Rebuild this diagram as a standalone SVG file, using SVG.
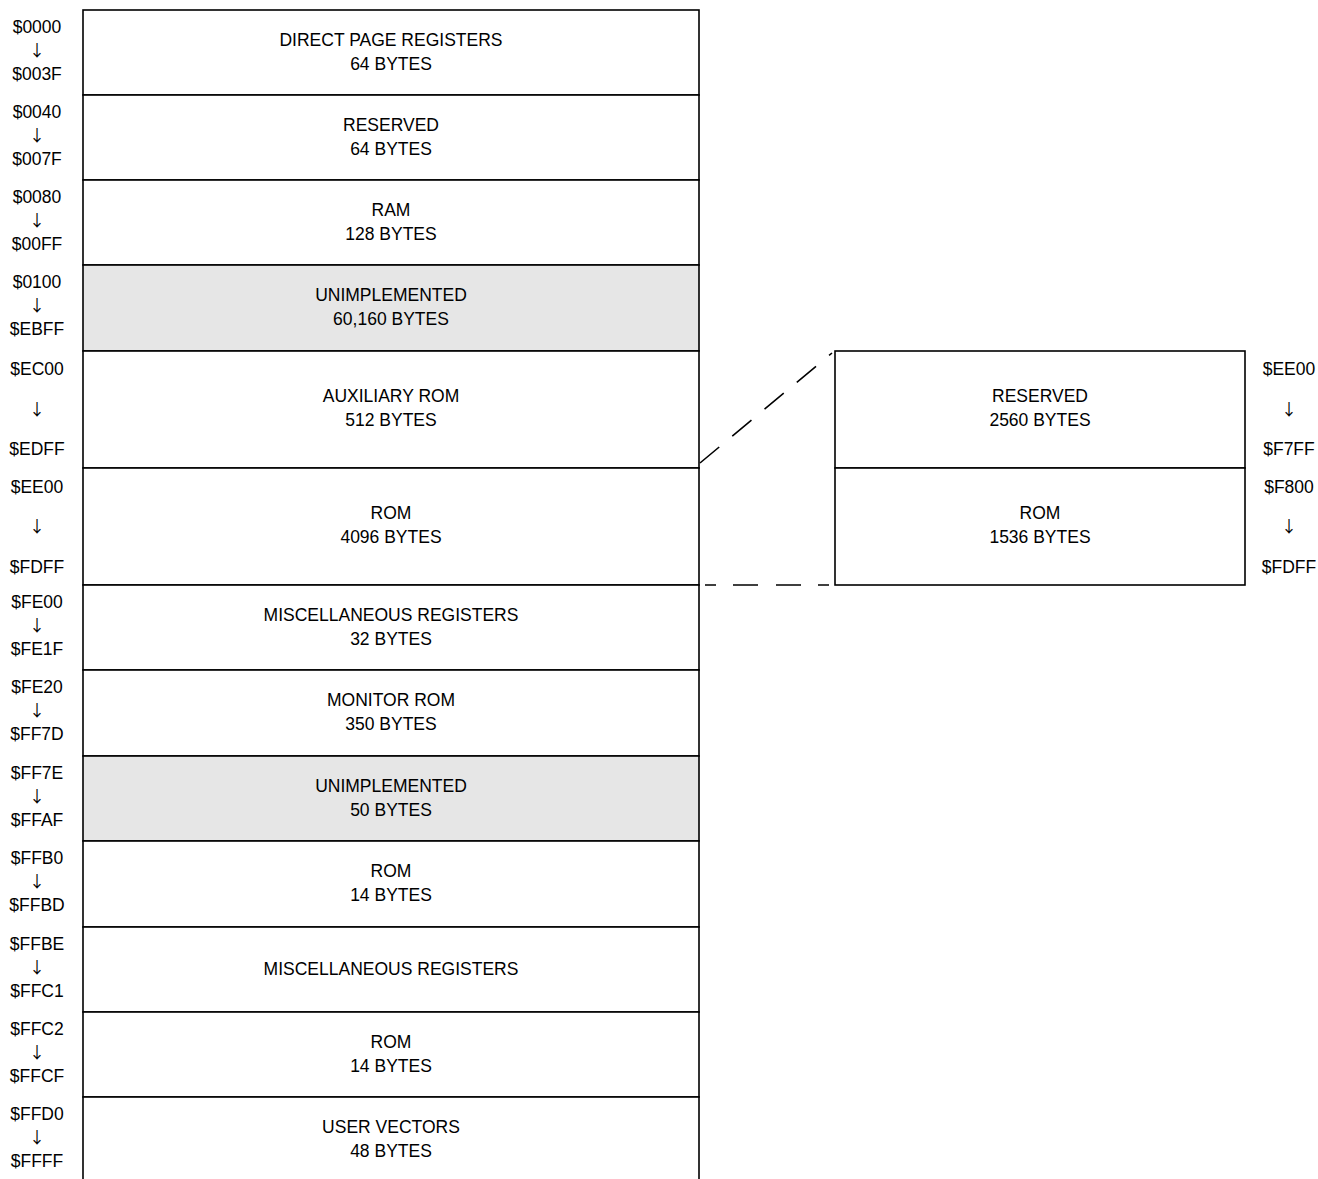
<svg xmlns="http://www.w3.org/2000/svg" width="1318" height="1179" viewBox="0 0 1318 1179">
<style>
text{font-family:"Liberation Sans",Arial,sans-serif;font-size:17.5px;fill:#000;text-anchor:middle}
text.ar{font-family:"Noto Sans CJK SC","DejaVu Sans",sans-serif;font-size:16px}
.box{fill:#fff;stroke:#000;stroke-width:1.6}
.gray{fill:#e6e6e6}
.dash{fill:none;stroke:#000;stroke-width:1.6;stroke-dasharray:25 17}
</style>
<rect width="1318" height="1179" fill="#fff"/>
<g id="map">
<g id="n0"><rect class="box" x="83" y="10" width="616" height="85"/><text x="391" y="46">DIRECT PAGE REGISTERS</text><text x="391" y="70">64 BYTES</text></g>
<g id="n1"><rect class="box" x="83" y="95" width="616" height="85"/><text x="391" y="131">RESERVED</text><text x="391" y="155">64 BYTES</text></g>
<g id="n2"><rect class="box" x="83" y="180" width="616" height="85"/><text x="391" y="216">RAM</text><text x="391" y="240">128 BYTES</text></g>
<g id="n3"><rect class="box gray" x="83" y="265" width="616" height="86"/><text x="391" y="301">UNIMPLEMENTED</text><text x="391" y="325">60,160 BYTES</text></g>
<g id="n4"><rect class="box" x="83" y="351" width="616" height="117"/><text x="391" y="402">AUXILIARY ROM</text><text x="391" y="426">512 BYTES</text></g>
<g id="n5"><rect class="box" x="83" y="468" width="616" height="117"/><text x="391" y="519">ROM</text><text x="391" y="543">4096 BYTES</text></g>
<g id="n6"><rect class="box" x="83" y="585" width="616" height="85"/><text x="391" y="621">MISCELLANEOUS REGISTERS</text><text x="391" y="645">32 BYTES</text></g>
<g id="n7"><rect class="box" x="83" y="670" width="616" height="86"/><text x="391" y="706">MONITOR ROM</text><text x="391" y="730">350 BYTES</text></g>
<g id="n8"><rect class="box gray" x="83" y="756" width="616" height="85"/><text x="391" y="792">UNIMPLEMENTED</text><text x="391" y="816">50 BYTES</text></g>
<g id="n9"><rect class="box" x="83" y="841" width="616" height="86"/><text x="391" y="877">ROM</text><text x="391" y="901">14 BYTES</text></g>
<g id="n10"><rect class="box" x="83" y="927" width="616" height="85"/><text x="391" y="975">MISCELLANEOUS REGISTERS</text></g>
<g id="n11"><rect class="box" x="83" y="1012" width="616" height="85"/><text x="391" y="1048">ROM</text><text x="391" y="1072">14 BYTES</text></g>
<g id="n12"><rect class="box" x="83" y="1097" width="616" height="100"/><text x="391" y="1133">USER VECTORS</text><text x="391" y="1157">48 BYTES</text></g>
</g>
<g id="expansion">
<g id="r0"><rect class="box" x="835" y="351" width="410" height="117"/><text x="1040" y="402">RESERVED</text><text x="1040" y="426">2560 BYTES</text></g>
<g id="r1"><rect class="box" x="835" y="468" width="410" height="117"/><text x="1040" y="519">ROM</text><text x="1040" y="543">1536 BYTES</text></g>
</g>
<g id="connectors">
<line class="dash" x1="700" y1="463" x2="832" y2="353"/>
<path d="M705 585H716M733 585H758M776 585H801M818 585H829" fill="none" stroke="#000" stroke-width="1.6"/>
</g>
<g id="addresses">
<text x="37" y="33">$0000</text><text class="ar" x="37" y="56">↓</text><text x="37" y="80">$003F</text>
<text x="37" y="118">$0040</text><text class="ar" x="37" y="141">↓</text><text x="37" y="165">$007F</text>
<text x="37" y="203">$0080</text><text class="ar" x="37" y="226">↓</text><text x="37" y="250">$00FF</text>
<text x="37" y="288">$0100</text><text class="ar" x="37" y="311">↓</text><text x="37" y="335">$EBFF</text>
<text x="37" y="375">$EC00</text><text class="ar" x="37" y="415">↓</text><text x="37" y="455">$EDFF</text>
<text x="37" y="493">$EE00</text><text class="ar" x="37" y="532">↓</text><text x="37" y="573">$FDFF</text>
<text x="37" y="608">$FE00</text><text class="ar" x="37" y="631">↓</text><text x="37" y="655">$FE1F</text>
<text x="37" y="693">$FE20</text><text class="ar" x="37" y="716">↓</text><text x="37" y="740">$FF7D</text>
<text x="37" y="779">$FF7E</text><text class="ar" x="37" y="802">↓</text><text x="37" y="826">$FFAF</text>
<text x="37" y="864">$FFB0</text><text class="ar" x="37" y="887">↓</text><text x="37" y="911">$FFBD</text>
<text x="37" y="950">$FFBE</text><text class="ar" x="37" y="973">↓</text><text x="37" y="997">$FFC1</text>
<text x="37" y="1035">$FFC2</text><text class="ar" x="37" y="1058">↓</text><text x="37" y="1082">$FFCF</text>
<text x="37" y="1120">$FFD0</text><text class="ar" x="37" y="1143">↓</text><text x="37" y="1167">$FFFF</text>
<text x="1289" y="375">$EE00</text><text class="ar" x="1289" y="415">↓</text><text x="1289" y="455">$F7FF</text>
<text x="1289" y="493">$F800</text><text class="ar" x="1289" y="532">↓</text><text x="1289" y="573">$FDFF</text>
</g>
</svg>
